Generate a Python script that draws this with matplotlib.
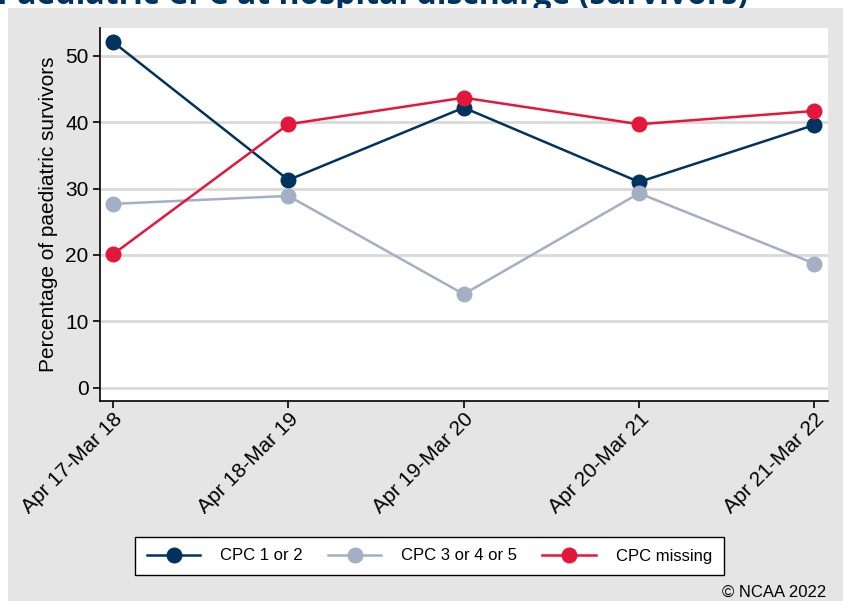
import matplotlib
matplotlib.use("Agg")
import matplotlib.pyplot as plt
from matplotlib.patches import Rectangle

periods = ["Apr 17-Mar 18", "Apr 18-Mar 19", "Apr 19-Mar 20", "Apr 20-Mar 21", "Apr 21-Mar 22"]
cpc_1_2 = [52.1, 31.3, 42.2, 31.0, 39.6]
cpc_3_4_5 = [27.7, 28.9, 14.1, 29.3, 18.7]
cpc_missing = [20.1, 39.7, 43.7, 39.7, 41.7]
y_ticks = [0, 10, 20, 30, 40, 50]

series = [
    ("CPC 1 or 2", cpc_1_2, "#00335f"),
    ("CPC 3 or 4 or 5", cpc_3_4_5, "#a3afc4"),
    ("CPC missing", cpc_missing, "#e4173b"),
]

plt.rcParams["font.family"] = ["Liberation Sans", "DejaVu Sans"]

W, H = 843, 601
fig = plt.figure(figsize=(W / 100, H / 100), dpi=100, facecolor="white")

# grey panel behind the chart (it also hides the title's descenders, as in the source)
fig.patches.append(Rectangle((8 / W, 0), 1 - 8 / W, 1 - 8 / H, transform=fig.transFigure,
                             facecolor="#e5e5e5", edgecolor="none", zorder=-10))

# title, mostly clipped off the top as in the source image
fig.text(-3 / W, 1 - 4 / H, "Paediatric CPC at hospital discharge (survivors)",
         fontsize=23, fontweight="bold", color="#00335f", ha="left", va="baseline",
         family=["Open Sans", "DejaVu Sans"], zorder=-20)

ax = fig.add_axes([99.5 / W, 1 - 401 / H, (828 - 99.5) / W, (401 - 28) / H])
ax.set_facecolor("white")

x = list(range(len(periods)))
for label, vals, color in series:
    ax.plot(x, vals, color=color, linewidth=1.8, marker="o", markersize=11.5,
            markeredgewidth=0, label=label, zorder=3)

ax.set_xlim(-0.077, 4.077)
ax.set_ylim(-2, 54.2)
ax.set_yticks(y_ticks)
ax.set_xticks(x)
ax.set_xticklabels(periods, rotation=45, ha="right", rotation_mode="anchor")
ax.tick_params(axis="both", labelsize=15, colors="black", length=5, width=1.2)
ax.tick_params(axis="x", pad=1)
ax.tick_params(axis="y", pad=3)
ax.grid(axis="y", color="#d9d9d9", linewidth=2)
ax.set_axisbelow(True)
ax.set_ylabel("Percentage of paediatric survivors", fontsize=15, labelpad=5)

for side in ["top", "right"]:
    ax.spines[side].set_visible(False)
for side in ["left", "bottom"]:
    ax.spines[side].set_linewidth(1.2)

leg = fig.legend(loc="center", bbox_to_anchor=(429.5 / W, 1 - 556 / H), ncol=3,
                 frameon=True, fancybox=False, fontsize=12, handlelength=3.2,
                 columnspacing=1.5, handletextpad=1.2, borderpad=0.7)
leg.get_frame().set_edgecolor("black")
leg.get_frame().set_linewidth(1.0)
leg.get_frame().set_facecolor("white")
leg.get_frame().set_alpha(1)

fig.text(826 / W, 1 - 592 / H, "© NCAA 2022", fontsize=12, ha="right", va="center")

fig.savefig("out.png", dpi=100, facecolor=fig.get_facecolor())
